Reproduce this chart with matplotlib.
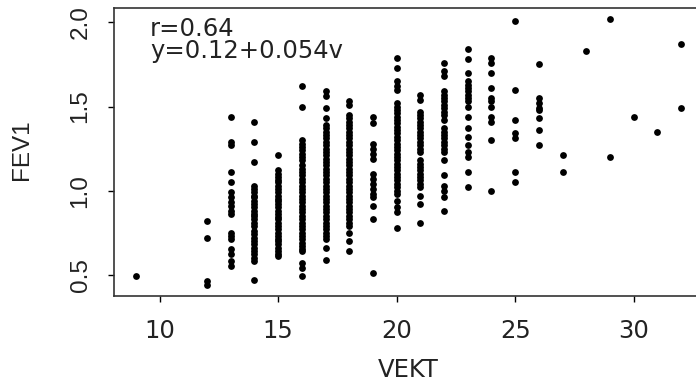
import matplotlib
matplotlib.use('Agg')
import matplotlib.pyplot as plt

# FEV1 values, one list per body weight (VEKT)
w9 = [0.49]
w12 = [0.82, 0.72, 0.46, 0.44]
w13 = [1.44, 1.29, 1.27, 1.11, 1.05, 0.99, 0.96, 0.93, 0.91, 0.88, 0.86,
       0.75, 0.73, 0.71, 0.65, 0.62, 0.58, 0.55]
w14 = [1.41, 1.29, 1.17, 1.03, 1.01, 0.99, 0.97, 0.96, 0.94, 0.92, 0.90,
       0.88, 0.86, 0.85, 0.83, 0.81, 0.79, 0.76, 0.74, 0.72, 0.70, 0.68,
       0.66, 0.64, 0.62, 0.60, 0.58, 0.47]
w15 = [1.21, 1.12, 1.10, 1.08, 1.06, 1.05, 1.03, 1.01, 0.99, 0.97, 0.95,
       0.94, 0.92, 0.90, 0.88, 0.86, 0.84, 0.83, 0.81, 0.79, 0.77, 0.75,
       0.73, 0.71, 0.70, 0.68, 0.66, 0.64, 0.62, 0.61]
w16 = [1.62, 1.50, 1.30, 1.28, 1.26, 1.24, 1.22, 1.20, 1.18, 1.15, 1.13,
       1.11, 1.09, 1.07, 1.05, 1.03, 1.01, 0.99, 0.97, 0.95, 0.93, 0.91,
       0.89, 0.87, 0.85, 0.83, 0.81, 0.79, 0.77, 0.75, 0.73, 0.71, 0.69,
       0.67, 0.65, 0.64, 0.57, 0.54, 0.49]
w17 = [1.59, 1.56, 1.49, 1.43, 1.39, 1.37, 1.35, 1.33, 1.31, 1.29, 1.27,
       1.25, 1.23, 1.21, 1.19, 1.17, 1.15, 1.13, 1.11, 1.09, 1.07, 1.05,
       1.03, 1.01, 0.99, 0.97, 0.95, 0.93, 0.91, 0.89, 0.87, 0.85, 0.83,
       0.81, 0.79, 0.77, 0.75, 0.73, 0.71, 0.66, 0.59]
w18 = [1.53, 1.51, 1.45, 1.43, 1.41, 1.39, 1.37, 1.35, 1.33, 1.31, 1.29,
       1.27, 1.25, 1.23, 1.21, 1.19, 1.17, 1.15, 1.13, 1.11, 1.09, 1.07,
       1.05, 1.03, 1.01, 0.99, 0.97, 0.95, 0.93, 0.91, 0.89, 0.87, 0.85,
       0.83, 0.81, 0.79, 0.75, 0.70, 0.64]
w19 = [1.44, 1.40, 1.28, 1.25, 1.22, 1.19, 1.10, 1.07, 1.04, 1.01, 0.98,
       0.96, 0.91, 0.83, 0.51]
w20 = [1.79, 1.73, 1.65, 1.62, 1.60, 1.52, 1.50, 1.48, 1.46, 1.44, 1.42,
       1.40, 1.38, 1.36, 1.34, 1.32, 1.30, 1.28, 1.26, 1.24, 1.22, 1.20,
       1.18, 1.16, 1.14, 1.12, 1.10, 1.08, 1.06, 1.04, 1.02, 1.00, 0.98,
       0.94, 0.90, 0.87, 0.78]
w21 = [1.57, 1.54, 1.47, 1.45, 1.43, 1.41, 1.39, 1.37, 1.35, 1.33, 1.31,
       1.29, 1.27, 1.25, 1.23, 1.18, 1.16, 1.14, 1.12, 1.10, 1.08, 1.06,
       1.04, 1.02, 0.97, 0.92, 0.81]
w22 = [1.76, 1.71, 1.68, 1.59, 1.57, 1.55, 1.53, 1.51, 1.49, 1.47, 1.45,
       1.42, 1.37, 1.35, 1.33, 1.31, 1.29, 1.27, 1.25, 1.23, 1.18, 1.09,
       1.03, 1.00, 0.96, 0.88]
w23 = [1.84, 1.78, 1.70, 1.65, 1.63, 1.61, 1.59, 1.57, 1.55, 1.53, 1.50,
       1.44, 1.37, 1.32, 1.27, 1.23, 1.20, 1.11, 1.02]
w24 = [1.79, 1.76, 1.70, 1.61, 1.55, 1.53, 1.50, 1.44, 1.41, 1.30, 1.00]
w25 = [2.01, 1.60, 1.42, 1.34, 1.31, 1.11, 1.05]
w26 = [1.75, 1.55, 1.52, 1.49, 1.48, 1.43, 1.36, 1.27]
w27 = [1.21, 1.11]
w28 = [1.83]
w29 = [2.02, 1.20]
w30 = [1.44]
w31 = [1.35]
w32 = [1.87, 1.49]

weights = [9, 12, 13, 14, 15, 16, 17, 18, 19, 20, 21, 22, 23, 24, 25, 26,
           27, 28, 29, 30, 31, 32]
columns = [w9, w12, w13, w14, w15, w16, w17, w18, w19, w20, w21, w22, w23,
           w24, w25, w26, w27, w28, w29, w30, w31, w32]

xticks = [10, 15, 20, 25, 30]
yticks = [0.5, 1.0, 1.5, 2.0]
ytick_labels = ['0.5', '1.0', '1.5', '2.0']
note_lines = ['r=0.64', 'y=0.12+0.054v']

vekt = []
fev1 = []
for w, col in zip(weights, columns):
    vekt += [w] * len(col)
    fev1 += col

fs = 17.5
fig = plt.figure(figsize=(6.96, 3.85), dpi=100)
ax = fig.add_axes([114 / 696, 89 / 385, 589 / 696, 288 / 385])

ax.scatter(vekt, fev1, s=24, c='black', linewidths=0)

ax.set_xlim(8.08, 32.92)
ax.set_ylim(0.373, 2.086)
ax.set_xticks(xticks)
ax.set_yticks(yticks)
ax.set_xticklabels([str(t) for t in xticks], fontsize=fs, color='#222222')
ax.set_yticklabels(ytick_labels, fontsize=fs, rotation=90, va='center',
                   family='Liberation Sans', color='#222222')
ax.tick_params(axis='x', length=4.2, width=1, pad=12)
ax.tick_params(axis='y', length=4.2, width=1, pad=12)
for sp in ax.spines.values():
    sp.set_linewidth(1.2)
    sp.set_color('#333333')

# annotation in the upper left corner
ax.text(9.6, 1.921, note_lines[0], fontsize=fs, va='baseline', color='#222222')
ax.text(9.6, 1.787, note_lines[1], fontsize=fs, va='baseline', color='#222222')

fig.text(408.7 / 696, 1 - 370.3 / 385, 'VEKT', fontsize=fs, ha='center',
         va='center', color='#222222')
fig.text(22 / 696, 1 - 150 / 385, 'FEV1', fontsize=fs, ha='center',
         va='center', rotation=90, family='Liberation Sans', color='#222222')

fig.savefig('out.png', dpi=100)
